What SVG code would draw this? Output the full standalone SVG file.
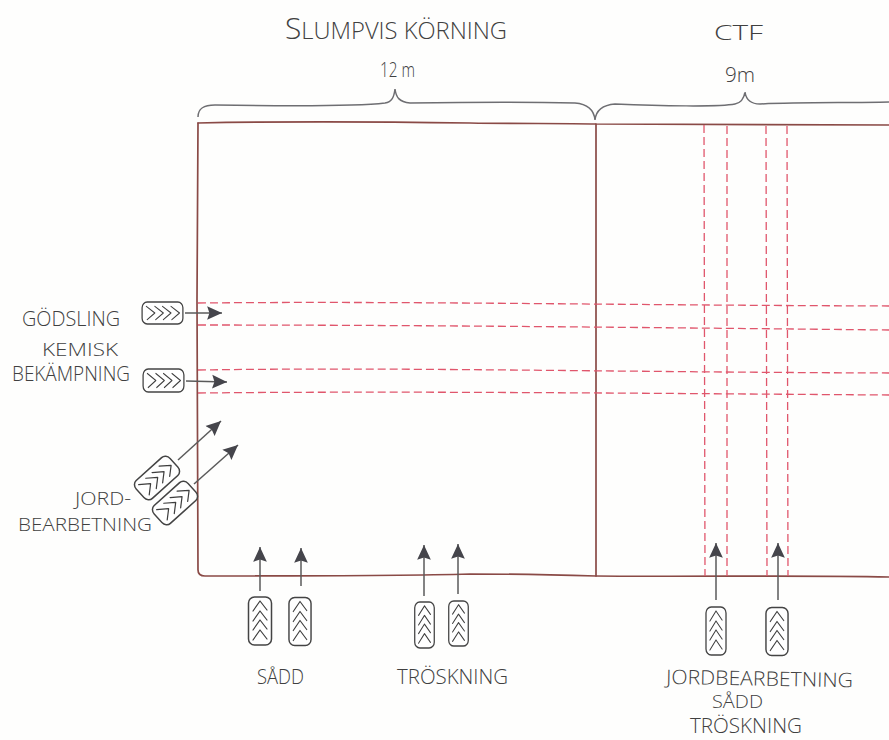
<svg xmlns="http://www.w3.org/2000/svg" xmlns:xlink="http://www.w3.org/1999/xlink" width="889" height="740" viewBox="0 0 889 740">
<style>
.t{font-family:"Open Sans","Liberation Sans",Arial,sans-serif;fill:#404040;font-weight:300}
.frame{fill:none;stroke:#8a4a46;stroke-width:1.7;stroke-linecap:round}
.dash{fill:none;stroke:#e0566c;stroke-width:1.3;stroke-dasharray:8 4}
.brace{fill:none;stroke:#6e6e72;stroke-width:1.5}
.arrow{fill:none;stroke:#5a5a5a;stroke-width:1.5;marker-end:url(#ah)}
.tyre{fill:#fff;stroke:#444;stroke-width:1.5}
.chev{fill:none;stroke:#3e3e3e;stroke-width:1.2;stroke-linecap:round;stroke-linejoin:round}
</style>
<defs>
<marker id="ah" markerUnits="userSpaceOnUse" markerWidth="16" markerHeight="16" refX="13" refY="7" orient="auto" viewBox="0 0 14 14"><path d="M0 1 L13 7 L0 13 L2 7Z" fill="#45454b"/></marker>
<g id="tyre">
<rect class="tyre" x="-11.500" y="-24" width="23" height="48" rx="6"/>
<path class="chev" d="M-7 -10 L0 -20 L7 -11 M-7 0 L0 -10 L7 -1 M-7 9 L0 -1 L7 8 M-7 19 L0 9 L7 18"/>
</g>
</defs>
<rect width="889" height="740" fill="#fefefd"/>
<g id="frame">
<path class="frame" d="M198 123 C300 121 400 122 470 123 C520 124 560 123 596 124 C680 125 780 124 889 125"/>
<path class="frame" d="M198 123 L197 300 L198 570 Q198 576 205 576 C300 576 400 576 470 574 C520 574 560 575 596 576 C700 577 800 575 889 577"/>
<path class="frame" d="M596 124 L596 576"/>
</g>
<g id="tramlines">
<path class="dash" d="M198 303 C400 301 600 305 889 306"/>
<path class="dash" d="M198 325 C400 325 600 327 889 330"/>
<path class="dash" d="M198 370 C400 367 600 372 889 373"/>
<path class="dash" d="M198 393 C400 391 600 393 889 395"/>
<path class="dash" d="M704 125 L705 576"/>
<path class="dash" d="M727 126 L727 576"/>
<path class="dash" d="M766 126 L767 576"/>
<path class="dash" d="M787 126 L788 576"/>
</g>
<g id="braces">
<path class="brace" d="M198 117 C198 108 204 105 215 105 C280 106 360 106 385 103 C392 102 394 97 395 89 C396 97 399 102 410 103 C470 102 540 102 575 103 C588 104 594 110 595 120 C596 110 603 105 615 104 C660 106 720 107 735 104 C741 103 744 98 745 92 C746 99 750 104 760 104 C800 102 850 103 889 102"/>
</g>
<g id="connectors">
<path class="arrow" d="M185 313 L222 313"/>
<path class="arrow" d="M186 381 L227 382"/>
<path class="arrow" d="M178 460 L221 421"/>
<path class="arrow" d="M194 484 L238 445"/>
<path class="arrow" d="M260 591 L260 547"/>
<path class="arrow" d="M301 586 L301 548"/>
<path class="arrow" d="M424 596 L424 545"/>
<path class="arrow" d="M458 594 L458 544"/>
<path class="arrow" d="M716 600 L716 543"/>
<path class="arrow" d="M778 600 L778 543"/>
</g>
<g id="tyre-godsling"><use xlink:href="#tyre" href="#tyre" transform="translate(162.500 313) rotate(90) scale(.95 .85)"/></g>
<g id="tyre-kemisk"><use xlink:href="#tyre" href="#tyre" transform="translate(163.500 380.500) rotate(90) scale(1 .85)"/></g>
<g id="tyre-jord1"><use xlink:href="#tyre" href="#tyre" transform="translate(157 478) rotate(48) scale(1.05 .95)"/></g>
<g id="tyre-jord2"><use xlink:href="#tyre" href="#tyre" transform="translate(175 503) rotate(48) scale(1.05 .95)"/></g>
<g id="tyre-sadd1"><use xlink:href="#tyre" href="#tyre" transform="translate(260 621)"/></g>
<g id="tyre-sadd2"><use xlink:href="#tyre" href="#tyre" transform="translate(300 621.500) scale(.96 1)"/></g>
<g id="tyre-trosk1"><use xlink:href="#tyre" href="#tyre" transform="translate(424.500 625) scale(.85 .96)"/></g>
<g id="tyre-trosk2"><use xlink:href="#tyre" href="#tyre" transform="translate(458.500 623.500) scale(.85 .94)"/></g>
<g id="tyre-ctf1"><use xlink:href="#tyre" href="#tyre" transform="translate(716 631) scale(.87 1)"/></g>
<g id="tyre-ctf2"><use xlink:href="#tyre" href="#tyre" transform="translate(777 631.500) scale(.96 1)"/></g>
<g id="labels">
<text class="t" x="285" y="39" font-size="23" textLength="222" lengthAdjust="spacingAndGlyphs"><tspan font-size="29">S</tspan>LUMPVIS KÖRNING</text>
<text class="t" x="714" y="40" font-size="21" textLength="49" lengthAdjust="spacingAndGlyphs">CTF</text>
<text class="t" x="380" y="77" font-size="20" textLength="35" lengthAdjust="spacingAndGlyphs">12 m</text>
<text class="t" x="725" y="82" font-size="20" textLength="30" lengthAdjust="spacingAndGlyphs">9m</text>
<text class="t" x="22" y="326" font-size="20" textLength="98" lengthAdjust="spacingAndGlyphs">GÖDSLING</text>
<text class="t" x="42" y="356" font-size="18" textLength="76" lengthAdjust="spacingAndGlyphs">KEMISK</text>
<text class="t" x="12" y="381" font-size="20" textLength="118" lengthAdjust="spacingAndGlyphs">BEKÄMPNING</text>
<text class="t" x="75" y="505" font-size="18" textLength="56" lengthAdjust="spacingAndGlyphs">JORD-</text>
<text class="t" x="18" y="531" font-size="19" textLength="134" lengthAdjust="spacingAndGlyphs">BEARBETNING</text>
<text class="t" x="257" y="684" font-size="20" textLength="47" lengthAdjust="spacingAndGlyphs">SÅDD</text>
<text class="t" x="397" y="684" font-size="20" textLength="111" lengthAdjust="spacingAndGlyphs">TRÖSKNING</text>
<text class="t" x="666" y="684" font-size="20" textLength="187" lengthAdjust="spacingAndGlyphs" transform="rotate(1 666 684)">JORDBEARBETNING</text>
<text class="t" x="712" y="708" font-size="19" textLength="51" lengthAdjust="spacingAndGlyphs">SÅDD</text>
<text class="t" x="690" y="733" font-size="20" textLength="112" lengthAdjust="spacingAndGlyphs">TRÖSKNING</text>
</g>
</svg>
